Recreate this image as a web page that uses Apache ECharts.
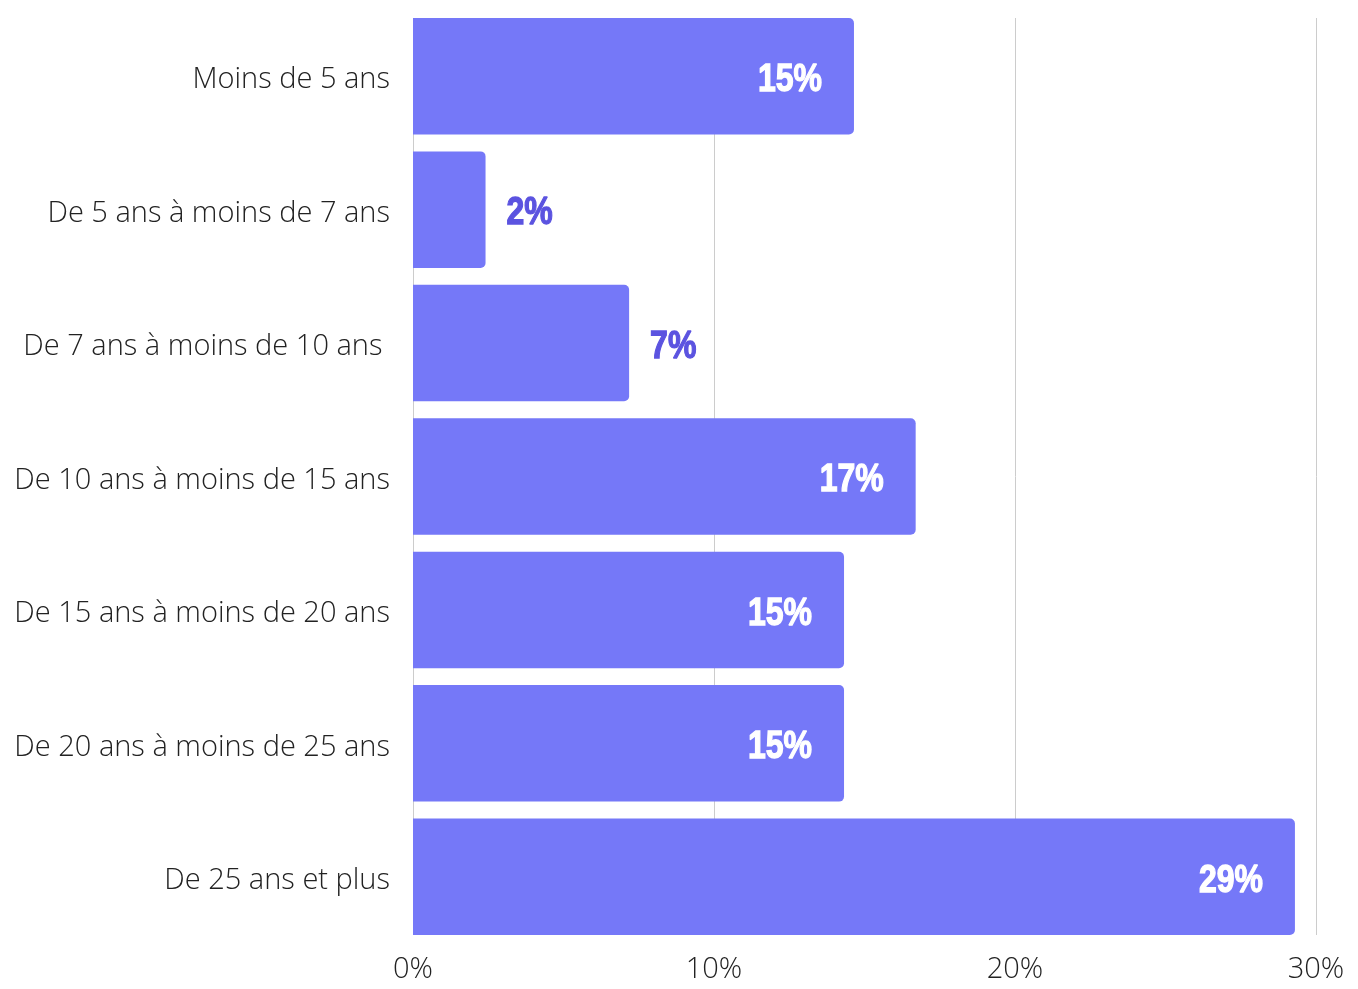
<!DOCTYPE html>
<html>
<head>
<meta charset="utf-8">
<script src="https://cdn.jsdelivr.net/npm/echarts@6/dist/echarts.min.js"></script>
<style>
  html, body { margin: 0; padding: 0; background: #fff; }
  /* taille fixe de la capture */
  #chart { width: 1358px; height: 989px; }
</style>
</head>
<body>
<div id="chart"></div>
<script>
// tranches d'ancienneté (du haut vers le bas)
var categories = [
  'Moins de 5 ans',
  'De 5 ans à moins de 7 ans',
  'De 7 ans à moins de 10 ans ',
  'De 10 ans à moins de 15 ans',
  'De 15 ans à moins de 20 ans',
  'De 20 ans à moins de 25 ans',
  'De 25 ans et plus'
];
// longueur des barres (%)
var values = [14.65, 2.41, 7.18, 16.7, 14.32, 14.32, 29.3];
// étiquettes affichées
var valueLabels = ['15%', '2%', '7%', '17%', '15%', '15%', '29%'];
// les petites barres ont l'étiquette à l'extérieur
var labelOutside = [false, true, true, false, false, false, false];
var xTicks = [0, 10, 20, 30];

var barColor = '#7578f8';
var outsideColor = '#5b53e0';

var chart = echarts.init(document.getElementById('chart'));

// données pour la série des étiquettes : [valeur, index catégorie]
var labelData = values.map(function (v, i) { return [v, i]; });

var option = {
  animation: false,
  grid: [
    // grille des barres (bandes pleines)
    { left: 413, right: 42, top: 9.5, bottom: 45.5 },
    // grille des lignes verticales et des graduations
    { left: 413, right: 42, top: 18, bottom: 54 }
  ],
  xAxis: [
    { gridIndex: 0, type: 'value', min: xTicks[0], max: xTicks[xTicks.length - 1], interval: 10, show: false },
    {
      gridIndex: 1, type: 'value', min: xTicks[0], max: xTicks[xTicks.length - 1], interval: 10,
      axisLine: { show: false },
      axisTick: { show: false },
      axisLabel: {
        formatter: '{value}%',
        fontFamily: 'Open Sans',
        fontWeight: 300,
        fontSize: 29,
        color: '#222',
        margin: 20
      },
      splitLine: { show: true, lineStyle: { color: '#cccccc', width: 1 } }
    }
  ],
  yAxis: [
    {
      gridIndex: 0, type: 'category', inverse: true, data: categories,
      axisLine: { show: false },
      axisTick: { show: false },
      axisLabel: {
        margin: 23,
        // texte légèrement sous le centre de la barre
        formatter: function (v) { return '{c|' + v + '}'; },
        rich: {
          c: {
            fontFamily: 'Open Sans',
            fontWeight: 300,
            fontSize: 29,
            color: '#222',
            padding: [8, 0, 0, 0]
          }
        }
      }
    },
    { gridIndex: 1, type: 'category', data: categories, show: false }
  ],
  series: [
    {
      type: 'bar',
      xAxisIndex: 0,
      yAxisIndex: 0,
      data: values,
      barCategoryGap: '12.7%',
      itemStyle: { color: barColor, borderRadius: [0, 5, 5, 0] }
    },
    {
      // étiquettes condensées (police étroite simulée par scaleX)
      type: 'custom',
      xAxisIndex: 0,
      yAxisIndex: 0,
      data: labelData,
      z: 5,
      renderItem: function (params, api) {
        var i = params.dataIndex;
        var pt = api.coord([api.value(0), api.value(1)]);
        var out = labelOutside[i];
        var col = out ? outsideColor : '#ffffff';
        return {
          type: 'text',
          x: out ? pt[0] + 21 : pt[0] - 32,
          y: pt[1] + 4,
          scaleX: 0.82,
          style: {
            text: valueLabels[i],
            x: 0,
            y: 0,
            fill: col,
            stroke: col,
            lineWidth: 1.3,
            fontFamily: 'Liberation Sans',
            fontWeight: 'bold',
            fontSize: 39,
            align: out ? 'left' : 'right',
            verticalAlign: 'middle'
          }
        };
      }
    }
  ]
};

chart.setOption(option);
</script>
</body>
</html>
